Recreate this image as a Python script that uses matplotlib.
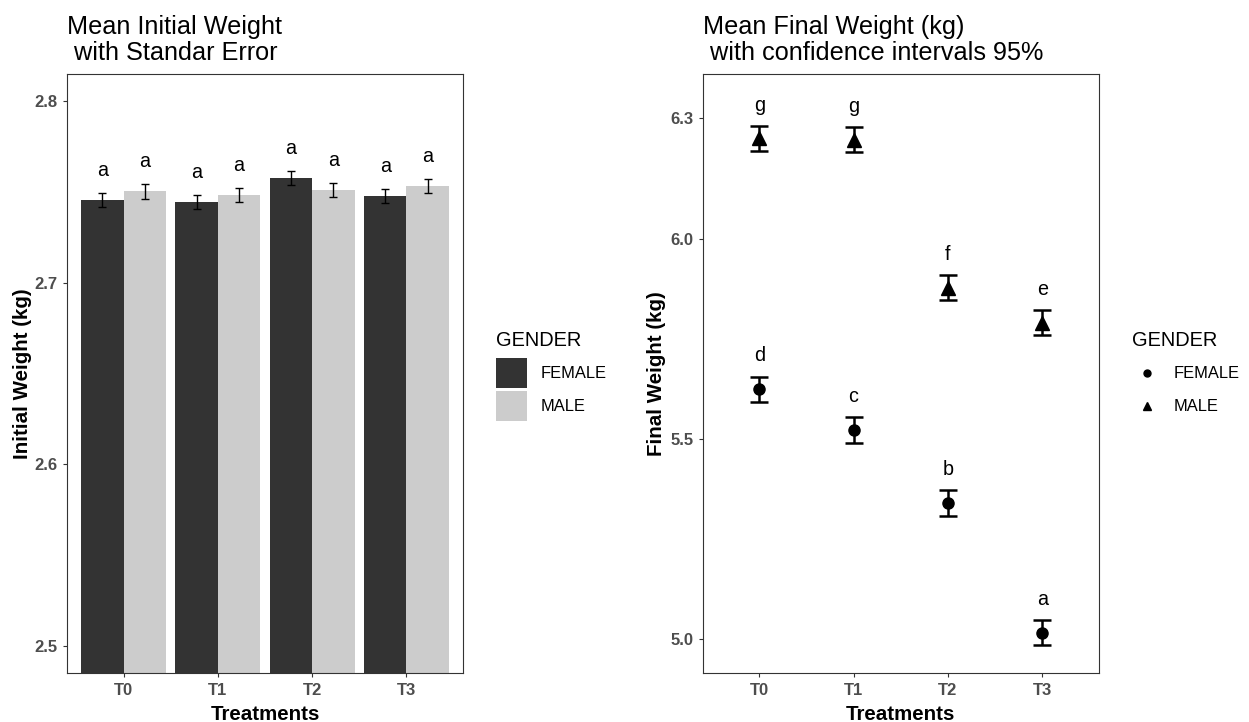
import matplotlib
matplotlib.use("Agg")
import matplotlib.pyplot as plt
import numpy as np
from matplotlib.patches import Patch
from matplotlib.lines import Line2D
from matplotlib.legend_handler import HandlerLine2D

plt.rcParams['font.family'] = ['Liberation Sans', 'DejaVu Sans']

# ---------------- data ----------------
treatments = ["T0", "T1", "T2", "T3"]
genders = ["FEMALE", "MALE"]

init_female = [2.7457, 2.7443, 2.7575, 2.7477]
init_male = [2.7503, 2.7483, 2.7510, 2.7533]
init_se_female = [0.0039, 0.0039, 0.0039, 0.0039]
init_se_male = [0.0039, 0.0039, 0.0039, 0.0039]
init_letters_female = ["a", "a", "a", "a"]
init_letters_male = ["a", "a", "a", "a"]

final_female = [5.624, 5.522, 5.340, 5.016]
final_male = [6.250, 6.247, 5.877, 5.790]
final_ci_female = [0.031, 0.032, 0.032, 0.032]
final_ci_male = [0.031, 0.031, 0.031, 0.032]
final_letters_female = ["d", "c", "b", "a"]
final_letters_male = ["g", "g", "f", "e"]

init_yticks = [2.5, 2.6, 2.7, 2.8]
final_yticks = [5.0, 5.5, 6.0, 6.3]

# ---------------- style ----------------
W, H = 1249, 722
DARK, LIGHT = "#333333", "#CCCCCC"
TICKCOL = "#4D4D4D"
FRAME = "#333333"


class CenteredLineHandler(HandlerLine2D):
    """Legend marker centred vertically in its key box (like ggplot)."""
    def create_artists(self, legend, orig_handle, xdescent, ydescent,
                       width, height, fontsize, trans):
        arts = super().create_artists(legend, orig_handle, xdescent, ydescent,
                                      width, height, fontsize, trans)
        for a in arts:
            a.set_ydata(np.asarray(a.get_ydata()) - ydescent / 2.0)
        return arts


fig = plt.figure(figsize=(W / 100, H / 100), dpi=100)
ax1 = fig.add_axes([67 / W, (H - 673) / H, 396 / W, 599 / H])
ax2 = fig.add_axes([702.7 / W, (H - 673) / H, 396 / W, 599 / H])

x = np.arange(len(treatments))
bw = 0.45

# ---- left: bars ----
ax1.bar(x - bw / 2, init_female, bw, color=DARK, zorder=2)
ax1.bar(x + bw / 2, init_male, bw, color=LIGHT, zorder=2)
ax1.errorbar(x - bw / 2, init_female, yerr=init_se_female, fmt='none', ecolor='black',
             elinewidth=1.0, capsize=3.1, capthick=1.0, zorder=3)
ax1.errorbar(x + bw / 2, init_male, yerr=init_se_male, fmt='none', ecolor='black',
             elinewidth=1.0, capsize=3.1, capthick=1.0, zorder=3)
for i in range(len(treatments)):
    ax1.text(x[i] - bw / 2, init_female[i] + init_se_female[i] + 0.0093, init_letters_female[i],
             ha='center', va='baseline', fontsize=14.2, color='black')
    ax1.text(x[i] + bw / 2, init_male[i] + init_se_male[i] + 0.0093, init_letters_male[i],
             ha='center', va='baseline', fontsize=14.2, color='black')
ax1.set_ylim(2.485, 2.815)
ax1.set_xlim(-0.6, 3.6)
ax1.set_yticks(init_yticks, [f"{v:.1f}" for v in init_yticks], fontweight='bold')

# ---- right: points ----
ax2.errorbar(x, final_female, yerr=final_ci_female, fmt='o', color='black', ms=8,
             elinewidth=1.8, capsize=6.7, capthick=1.8, zorder=3)
ax2.errorbar(x, final_male, yerr=final_ci_male, fmt='^', color='black', ms=9.5,
             elinewidth=1.8, capsize=6.7, capthick=1.8, zorder=3)
for i in range(len(treatments)):
    ax2.text(x[i], final_female[i] + 0.069, final_letters_female[i],
             ha='center', va='baseline', fontsize=14.2, color='black')
    ax2.text(x[i], final_male[i] + 0.069, final_letters_male[i],
             ha='center', va='baseline', fontsize=14.2, color='black')
ax2.set_ylim(4.915, 6.411)
ax2.set_xlim(-0.6, 3.6)
ax2.set_yticks(final_yticks, [f"{v:.1f}" for v in final_yticks], fontweight='bold')

for ax in (ax1, ax2):
    ax.set_xticks(x, treatments, fontweight='bold')
    ax.tick_params(axis='both', length=2.9, width=0.8, color=FRAME, labelsize=12,
                   labelcolor=TICKCOL)
    ax.tick_params(axis='x', pad=4.0)
    ax.tick_params(axis='y', pad=3.6)
    for s in ax.spines.values():
        s.set_color(FRAME)
        s.set_linewidth(0.8)
    ax.set_facecolor('white')

ax1.set_xlabel("Treatments", fontsize=14.8, fontweight='bold')
ax2.set_xlabel("Treatments", fontsize=14.8, fontweight='bold')
ax1.xaxis.set_label_coords(0.5, (673 - 704.5) / 599)
ax2.xaxis.set_label_coords(0.5, (673 - 704.5) / 599)
ax1.set_ylabel("Initial Weight (kg)", fontsize=14.8, fontweight='bold')
ax2.set_ylabel("Final Weight (kg)", fontsize=14.8, fontweight='bold')
ax1.yaxis.set_label_coords((31.9 - 67) / 396, 0.5)
ax2.yaxis.set_label_coords((666.4 - 702.7) / 396, 0.5)

# ---- titles ----
fig.text(67 / W, 1 - 60 / H, "Mean Initial Weight\n with Standar Error", fontsize=18.2,
         ha='left', va='baseline', linespacing=1.12)
fig.text(702.7 / W, 1 - 60 / H, "Mean Final Weight (kg)\n with confidence intervals 95%",
         fontsize=18.2, ha='left', va='baseline', linespacing=1.12)

# ---- legends ----
leg_kw = dict(title="GENDER", loc='upper left', bbox_transform=fig.transFigure,
              frameon=False, fontsize=11.9, title_fontsize=14.4, handlelength=1.88,
              handleheight=2.415, labelspacing=0.14, borderpad=0, borderaxespad=0,
              alignment='left')
leg1 = ax1.legend(handles=[Patch(facecolor=DARK, edgecolor='none'),
                           Patch(facecolor=LIGHT, edgecolor='none')],
                  labels=genders, bbox_to_anchor=(496 / W, 1 - 331 / H),
                  handletextpad=0.8, **leg_kw)
leg2 = ax2.legend(handles=[Line2D([], [], marker='o', color='black', ls='', ms=5),
                           Line2D([], [], marker='^', color='black', ls='', ms=6)],
                  labels=genders, bbox_to_anchor=(1131.7 / W, 1 - 331 / H),
                  handletextpad=0.68, handler_map={Line2D: CenteredLineHandler()},
                  **leg_kw)
for leg in (leg1, leg2):
    leg._legend_box.sep = 6.0

fig.savefig("out.png", dpi=100, facecolor='white')
